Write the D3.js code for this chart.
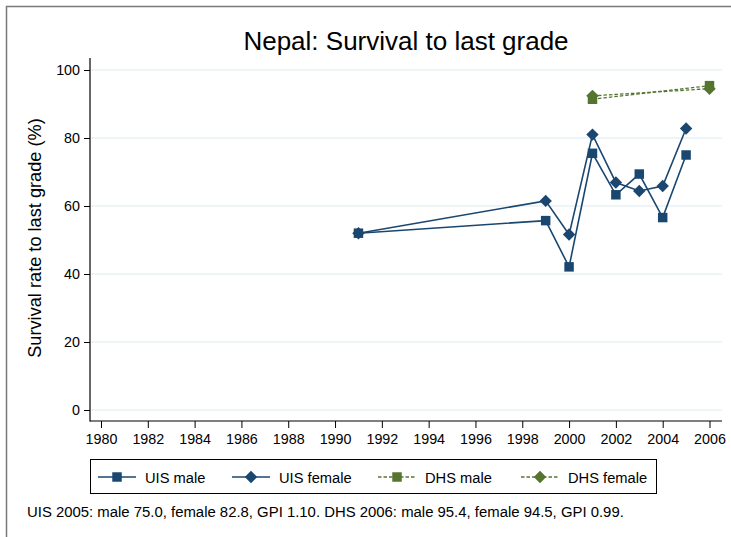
<!DOCTYPE html>
<html>
<head>
<meta charset="utf-8">
<script src="https://cdn.jsdelivr.net/npm/d3@7"></script>
<style>
  body { margin: 0; background: #fff; }
  text { font-family: "Liberation Sans", Arial, sans-serif; fill: #000; }
</style>
</head>
<body>
<div class="chart"></div>
<script>
// data
var uisYears = [1991, 1999, 2000, 2001, 2002, 2003, 2004, 2005];
var uisMale = [52.0, 55.7, 42.1, 75.5, 63.3, 69.4, 56.6, 75.0];
var uisFemale = [52.0, 61.5, 51.6, 81.0, 66.9, 64.4, 65.9, 82.8];
var dhsYears = [2001, 2006];
var dhsMale = [91.4, 95.4];
var dhsFemale = [92.4, 94.5];
var xTicks = d3.range(1980, 2007, 2);
var yTicks = [0, 20, 40, 60, 80, 100];

var svgWidth = 731;
var svgHeight = 537;

// plot region (Stata-like)
var plot = { left: 90, right: 722, top: 58, bottom: 421 };

var blue = "#1a476f";
var green = "#55752f";

var svg = d3.select(".chart")
  .append("svg")
  .attr("width", svgWidth)
  .attr("height", svgHeight);

// outer frame, cut off at the right/bottom as in the picture
svg.append("rect")
  .attr("x", 6.5).attr("y", 6.5)
  .attr("width", 760).attr("height", 560)
  .attr("fill", "none")
  .attr("stroke", "#7a7a7a")
  .attr("stroke-width", 1.5);

var x = d3.scaleLinear().domain([1980, 2006]).range([101, 709.5]);
var y = d3.scaleLinear().domain([0, 100]).range([410, 70]);

// gridlines
svg.append("g")
  .selectAll("line")
  .data(yTicks)
  .enter()
  .append("line")
  .attr("x1", plot.left + 1)
  .attr("x2", plot.right)
  .attr("y1", d => y(d))
  .attr("y2", d => y(d))
  .attr("stroke", "#eaf2f3")
  .attr("stroke-width", 1.5);

// y axis
var leftAxis = d3.axisLeft(y).tickValues(yTicks).tickSize(6).tickPadding(4);
var yAxis = svg.append("g")
  .attr("transform", `translate(${plot.left}, 0)`)
  .call(leftAxis);
yAxis.select(".domain").remove();
yAxis.selectAll("text").style("font-size", "14.3px").attr("font-family", null);
yAxis.selectAll("line").attr("stroke", "#000");

// x axis
var bottomAxis = d3.axisBottom(x).tickValues(xTicks).tickFormat(d3.format("d")).tickSize(7).tickPadding(6);
var xAxis = svg.append("g")
  .attr("transform", `translate(0, ${plot.bottom})`)
  .call(bottomAxis);
xAxis.select(".domain").remove();
xAxis.selectAll("text").style("font-size", "14.3px").attr("font-family", null);
xAxis.selectAll("line").attr("stroke", "#000");

// axis lines
svg.append("line")
  .attr("x1", plot.left).attr("x2", plot.left)
  .attr("y1", plot.top).attr("y2", plot.bottom + 0.5)
  .attr("stroke", "#000").attr("stroke-width", 1.2);
svg.append("line")
  .attr("x1", plot.left).attr("x2", plot.right)
  .attr("y1", plot.bottom).attr("y2", plot.bottom)
  .attr("stroke", "#000").attr("stroke-width", 1.2);

// series
var series = [
  { name: "UIS male", years: uisYears, values: uisMale, color: blue, symbol: d3.symbolSquare, dash: null },
  { name: "UIS female", years: uisYears, values: uisFemale, color: blue, symbol: "diamond", dash: null },
  { name: "DHS male", years: dhsYears, values: dhsMale, color: green, symbol: d3.symbolSquare, dash: "3.5,2" },
  { name: "DHS female", years: dhsYears, values: dhsFemale, color: green, symbol: "diamond", dash: "3.5,2" }
];

function markerPath(symbol) {
  if (symbol === "diamond") {
    // Stata diamond: square rotated 45 degrees
    return "M0,-6.2L6.2,0L0,6.2L-6.2,0Z";
  }
  return d3.symbol().type(symbol).size(90)();
}

var line = d3.line()
  .x(d => x(d[0]))
  .y(d => y(d[1]));

series.forEach(function(s) {
  var pts = s.years.map((yr, i) => [yr, s.values[i]]);
  svg.append("path")
    .datum(pts)
    .attr("d", line)
    .attr("fill", "none")
    .attr("stroke", s.color)
    .attr("stroke-width", s.dash ? 1.3 : 1.6)
    .attr("stroke-dasharray", s.dash);

  svg.append("g")
    .selectAll("path")
    .data(pts)
    .enter()
    .append("path")
    .attr("transform", d => `translate(${x(d[0])}, ${y(d[1])})`)
    .attr("d", markerPath(s.symbol))
    .attr("fill", s.color);
});

// title
svg.append("text")
  .attr("x", (plot.left + plot.right) / 2)
  .attr("y", 50)
  .attr("text-anchor", "middle")
  .style("font-size", "26px")
  .text("Nepal: Survival to last grade");

// y axis label
svg.append("text")
  .attr("transform", "rotate(-90)")
  .attr("x", -238)
  .attr("y", 41)
  .attr("text-anchor", "middle")
  .style("font-size", "18.2px")
  .text("Survival rate to last grade (%)");

// legend
var legend = svg.append("g");
legend.append("rect")
  .attr("x", 90.5).attr("y", 459.5)
  .attr("width", 566).attr("height", 34)
  .attr("fill", "#fff")
  .attr("stroke", "#000")
  .attr("stroke-width", 1);

var legendX = [98, 232, 378, 521];
series.forEach(function(s, i) {
  var lx = legendX[i];
  var g = legend.append("g").attr("transform", `translate(${lx}, 477)`);
  g.append("line")
    .attr("x1", 0).attr("x2", 38)
    .attr("stroke", s.color)
    .attr("stroke-width", s.dash ? 1.3 : 1.6)
    .attr("stroke-dasharray", s.dash);
  g.append("path")
    .attr("transform", "translate(19, 0)")
    .attr("d", markerPath(s.symbol))
    .attr("fill", s.color);
  g.append("text")
    .attr("x", 47)
    .attr("y", 5.5)
    .style("font-size", "14.7px")
    .text(s.name);
});

// note
svg.append("text")
  .attr("x", 27)
  .attr("y", 517)
  .style("font-size", "14.9px")
  .text("UIS 2005: male 75.0, female 82.8, GPI 1.10. DHS 2006: male 95.4, female 94.5, GPI 0.99.");
</script>
</body>
</html>
